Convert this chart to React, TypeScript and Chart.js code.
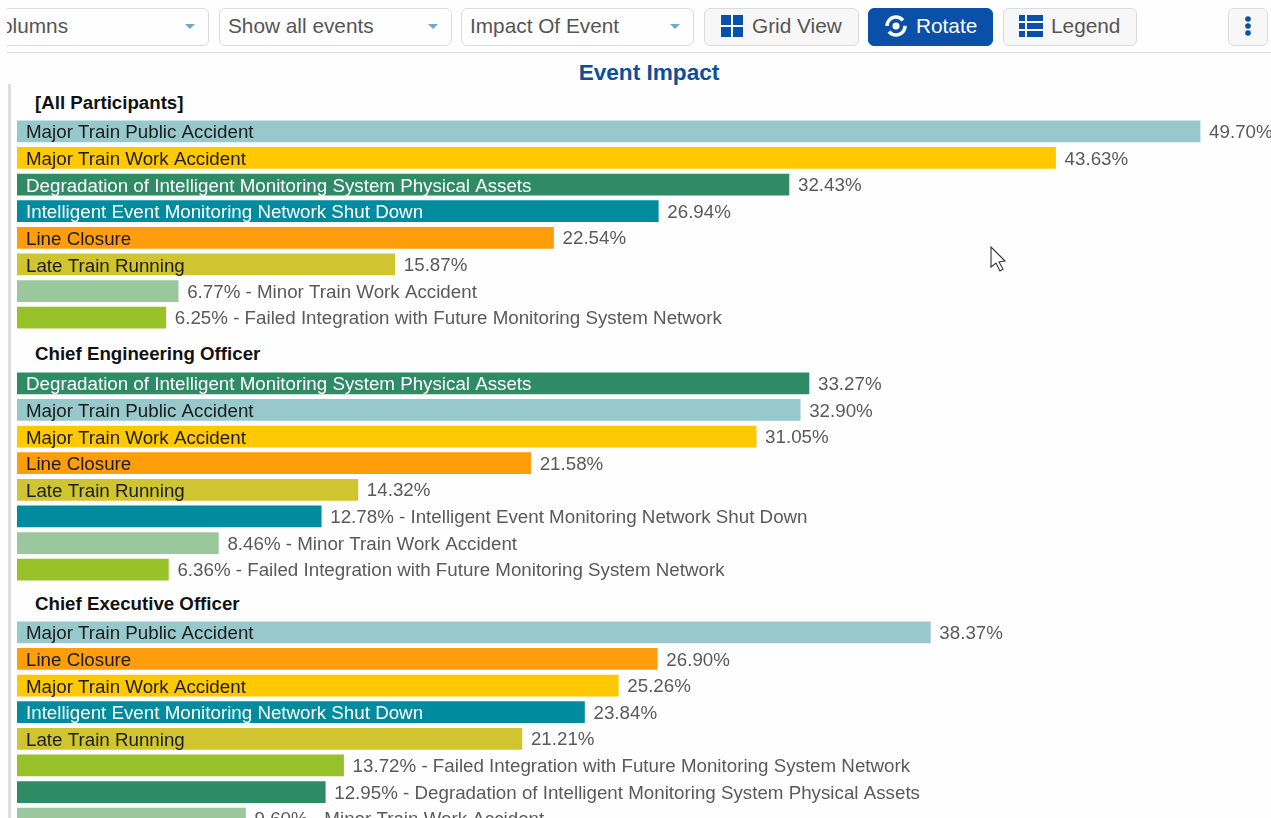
import React, { useEffect, useRef } from "react";
import { Chart, registerables } from "chart.js";

Chart.register(...registerables);

const FONT = '"Liberation Sans", Arial, sans-serif';

const PUBLIC_ACCIDENT = "Major Train Public Accident";
const WORK_ACCIDENT = "Major Train Work Accident";
const DEGRADATION = "Degradation of Intelligent Monitoring System Physical Assets";
const SHUT_DOWN = "Intelligent Event Monitoring Network Shut Down";
const LINE_CLOSURE = "Line Closure";
const LATE_TRAIN = "Late Train Running";
const MINOR_ACCIDENT = "Minor Train Work Accident";
const FAILED_INTEGRATION = "Failed Integration with Future Monitoring System Network";

const eventColors: Record<string, string> = {
  [PUBLIC_ACCIDENT]: "#97c8cc",
  [WORK_ACCIDENT]: "#ffc800",
  [DEGRADATION]: "#2e8b66",
  [SHUT_DOWN]: "#008c9e",
  [LINE_CLOSURE]: "#ff9e0a",
  [LATE_TRAIN]: "#d0c530",
  [MINOR_ACCIDENT]: "#9ac79c",
  [FAILED_INTEGRATION]: "#98c22a",
};
const whiteTextEvents = [DEGRADATION, SHUT_DOWN];

const allParticipantsEvents = [PUBLIC_ACCIDENT, WORK_ACCIDENT, DEGRADATION, SHUT_DOWN, LINE_CLOSURE, LATE_TRAIN, MINOR_ACCIDENT, FAILED_INTEGRATION];
const allParticipantsValues = [49.7, 43.63, 32.43, 26.94, 22.54, 15.87, 6.77, 6.25];

const engineeringEvents = [DEGRADATION, PUBLIC_ACCIDENT, WORK_ACCIDENT, LINE_CLOSURE, LATE_TRAIN, SHUT_DOWN, MINOR_ACCIDENT, FAILED_INTEGRATION];
const engineeringValues = [33.27, 32.9, 31.05, 21.58, 14.32, 12.78, 8.46, 6.36];

const executiveEvents = [PUBLIC_ACCIDENT, LINE_CLOSURE, WORK_ACCIDENT, SHUT_DOWN, LATE_TRAIN, FAILED_INTEGRATION, DEGRADATION, MINOR_ACCIDENT];
const executiveValues = [38.37, 26.9, 25.26, 23.84, 21.21, 13.72, 12.95, 9.6];

const labelPlugin = {
  id: "barLabels",
  afterDatasetsDraw(chart: any) {
    const { ctx } = chart;
    const meta = chart.getDatasetMeta(0);
    const values = chart.data.datasets[0].data as number[];
    const names = chart.data.labels as string[];
    ctx.save();
    ctx.font = `18.75px ${FONT}`;
    ctx.textBaseline = "middle";
    meta.data.forEach((bar: any, i: number) => {
      const name = names[i];
      const pct = values[i].toFixed(2) + "%";
      const fits = ctx.measureText(name).width + 18 < bar.x;
      ctx.fillStyle = "#5a5a5a";
      ctx.fillText(fits ? pct : `${pct} - ${name}`, bar.x + 9, bar.y + 1.5);
      if (fits) {
        ctx.fillStyle = whiteTextEvents.includes(name) ? "#ffffff" : "#1c1c1c";
        ctx.fillText(name, 9, bar.y + 2);
      }
    });
    ctx.restore();
  },
};

function BarGroup({ title, events, values, top, headingTop }: { title: string; events: string[]; values: number[]; top: number; headingTop: number }) {
  const ref = useRef<HTMLCanvasElement>(null);
  useEffect(() => {
    const chart = new Chart(ref.current!, {
      type: "bar",
      data: {
        labels: events,
        datasets: [
          {
            data: values,
            backgroundColor: events.map((e) => eventColors[e]),
            barThickness: 21,
          },
        ],
      },
      options: {
        indexAxis: "y",
        animation: false,
        responsive: false,
        layout: { padding: 0 },
        scales: {
          x: { display: false, min: 0, max: 52.68 },
          y: { display: false },
        },
        plugins: { legend: { display: false }, tooltip: { enabled: false } },
      },
      plugins: [labelPlugin],
    } as any);
    return () => chart.destroy();
  }, []);
  return (
    <>
      <div style={{ position: "absolute", left: 35, top: headingTop, fontWeight: 700, fontSize: 18.7, lineHeight: "20px", color: "#111", whiteSpace: "nowrap" }}>{title}</div>
      <canvas ref={ref} width={1254} height={213} style={{ position: "absolute", left: 17, top, display: "block" }} />
    </>
  );
}

const boxBase: React.CSSProperties = {
  position: "absolute",
  top: 8,
  height: 38,
  boxSizing: "border-box",
  border: "1px solid #dcdcdc",
  borderRadius: 6,
  fontSize: 20.8,
  color: "#555",
  lineHeight: "34px",
  whiteSpace: "nowrap",
};

function Select({ left, width, label, textLeft = 8 }: { left: number; width: number; label: string; textLeft?: number }) {
  return (
    <div style={{ ...boxBase, left, width, background: "#fefefe" }}>
      <span style={{ position: "absolute", left: textLeft, top: 0 }}>{label}</span>
      <div style={{ position: "absolute", right: 13, top: 15, width: 0, height: 0, borderLeft: "5px solid transparent", borderRight: "5px solid transparent", borderTop: "5px solid #6fa8c8" }} />
    </div>
  );
}

function Button({ left, width, label, icon, active, textLeft }: { left: number; width: number; label: string; icon: React.ReactNode; active?: boolean; textLeft: number }) {
  return (
    <div style={{ ...boxBase, left, width, background: active ? "#0a4fa8" : "#f7f7f7", color: active ? "#fff" : "#555", borderColor: active ? "#0a4fa8" : "#dcdcdc" }}>
      <div style={{ position: "absolute", left: 15, top: 5 }}>{icon}</div>
      <span style={{ position: "absolute", left: textLeft, top: 0 }}>{label}</span>
    </div>
  );
}

const BLUE = "#0a4fa8";

const gridIcon = (
  <svg width="24" height="24">
    <rect x="1" y="1" width="10" height="10" fill={BLUE} />
    <rect x="13" y="1" width="10" height="10" fill={BLUE} />
    <rect x="1" y="13" width="10" height="10" fill={BLUE} />
    <rect x="13" y="13" width="10" height="10" fill={BLUE} />
  </svg>
);
const rotateIcon = (
  <svg width="24" height="24">
    <circle cx="12" cy="12" r="9" fill="none" stroke="#fff" strokeWidth="3.5" strokeDasharray="22 6" />
    <circle cx="12" cy="12" r="3.5" fill="#fff" />
  </svg>
);
const legendIcon = (
  <svg width="24" height="24">
    {[1, 9, 17].map((y) => (
      <g key={y}>
        <rect x="0" y={y} width="6" height="6" fill={BLUE} />
        <rect x="8" y={y} width="16" height="6" fill={BLUE} />
      </g>
    ))}
  </svg>
);

export default function App() {
  return (
    <div style={{ position: "fixed", left: 0, top: 0, width: 1271, height: 818, overflow: "hidden", background: "#fefefe", fontFamily: FONT }}>
      <div style={{ position: "absolute", left: 7, top: 0, width: 210, height: 52, overflow: "hidden" }}>
        <Select left={-40} width={242} label="Columns" textLeft={18} />
      </div>
      <Select left={219} width={233} label="Show all events" />
      <Select left={461} width={233} label="Impact Of Event" />
      <Button left={704} width={155} label="Grid View" icon={gridIcon} textLeft={47} />
      <Button left={868} width={125} label="Rotate" icon={rotateIcon} active textLeft={47} />
      <Button left={1003} width={134} label="Legend" icon={legendIcon} textLeft={47} />
      <div style={{ ...boxBase, left: 1228, width: 40, background: "#f7f7f7" }}>
        <svg width="38" height="36" style={{ position: "absolute", left: 0, top: 0 }}>
          {[10, 17, 24].map((y) => (
            <circle key={y} cx="19" cy={y} r="2.8" fill={BLUE} />
          ))}
        </svg>
      </div>
      <div style={{ position: "absolute", left: 7, top: 52, width: 1264, height: 1, background: "#d9d9d9" }} />
      <div style={{ position: "absolute", left: 8, top: 84, width: 3, height: 734, background: "#dedede" }} />
      <div style={{ position: "absolute", left: 449, top: 61, width: 400, textAlign: "center", fontWeight: 700, fontSize: 22.6, lineHeight: "24px", color: "#0a4f9e" }}>Event Impact</div>

      <BarGroup title="[All Participants]" events={allParticipantsEvents} values={allParticipantsValues} top={118} headingTop={93} />
      <BarGroup title="Chief Engineering Officer" events={engineeringEvents} values={engineeringValues} top={370} headingTop={344} />
      <BarGroup title="Chief Executive Officer" events={executiveEvents} values={executiveValues} top={619} headingTop={594} />

      <svg width="20" height="28" style={{ position: "absolute", left: 989, top: 246 }}>
        <path d="M2 1 L2 21 L7 17 L11 25 L14 23 L10 16 L16 15 Z" fill="#fff" stroke="#333" strokeWidth="1.1" />
      </svg>
    </div>
  );
}
